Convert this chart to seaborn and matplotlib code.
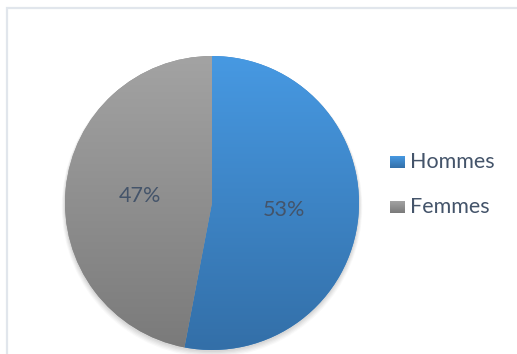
import numpy as np
import matplotlib
matplotlib.use("Agg")
import matplotlib.pyplot as plt
import matplotlib.colors as mcolors
from matplotlib.patches import Rectangle, Circle
import seaborn as sns

# Data
categories = ["Hommes", "Femmes"]
shares = [53, 47]
top_colors = ["#4799E2", "#A3A3A3"]
bottom_colors = ["#336FA8", "#7A7A7A"]

sns.set_theme(style="white")
plt.rcParams["font.family"] = ["Lato", "DejaVu Sans"]
plt.rcParams["font.style"] = "normal"

W, H = 517, 354
fig = plt.figure(figsize=(W / 100, H / 100), dpi=100)
ax = fig.add_axes([0, 0, 1, 1])
ax.set_xlim(0, W)
ax.set_ylim(0, H)
ax.set_aspect("equal")
ax.axis("off")

# Chart frame
frame = Rectangle((7, -10), W + 20, H - 8 + 10, fill=False,
                  edgecolor="#E1E6EC", linewidth=1.6, zorder=0)
ax.add_patch(frame)

cx, cy, r = 212, H - 203, 147

# Soft shadow below the pie
for i, a in enumerate([0.035, 0.035, 0.03, 0.03, 0.025]):
    sh = Circle((cx, cy - 1.5 - i * 0.6), r + 0.5 + i * 0.7,
                facecolor="black", edgecolor="none", alpha=a, zorder=1)
    ax.add_patch(sh)

mid_colors = [
    mcolors.to_hex((np.array(mcolors.to_rgb(t)) + np.array(mcolors.to_rgb(b))) / 2)
    for t, b in zip(top_colors, bottom_colors)
]

text_style = dict(color="#44546A", fontsize=15.5, fontstyle="normal",
                  fontweight="normal")

wedges, texts, autotexts = ax.pie(
    shares,
    colors=mid_colors,
    startangle=90,
    counterclock=False,
    center=(cx, cy),
    radius=r,
    autopct=lambda p: f"{round(p)}%",
    pctdistance=0.49,
    wedgeprops=dict(linewidth=0, edgecolor="none"),
    textprops=text_style,
    frame=True,
)
ax.set_xlim(0, W)
ax.set_ylim(0, H)
ax.axis("off")

# Vertical gradient fill clipped to each wedge
grad = np.linspace(0, 1, 256)[:, None]
for w, t, b in zip(wedges, top_colors, bottom_colors):
    cmap = mcolors.LinearSegmentedColormap.from_list("g", [b, t])
    im = ax.imshow(np.repeat(grad, 2, axis=1), cmap=cmap, origin="lower",
                   extent=(cx - r, cx + r, cy - r, cy + r),
                   aspect="auto", zorder=2, interpolation="bilinear")
    im.set_clip_path(w)
for txt in autotexts:
    txt.set_zorder(5)

# Legend with gradient swatches
leg_x, leg_y0, dy = 390, H - 162, 45
for i, (lab, t, b) in enumerate(zip(categories, top_colors, bottom_colors)):
    y = leg_y0 - i * dy
    cmap = mcolors.LinearSegmentedColormap.from_list("g", [b, t])
    ax.imshow(np.repeat(grad, 2, axis=1), cmap=cmap, origin="lower",
              extent=(leg_x, leg_x + 15, y - 6, y + 6), aspect="auto",
              zorder=3, interpolation="bilinear")
    ax.text(leg_x + 20, y, lab, va="center", ha="left", zorder=5,
            **text_style)

ax.set_xlim(0, W)
ax.set_ylim(0, H)
fig.savefig("out.png", dpi=100, facecolor="white")
